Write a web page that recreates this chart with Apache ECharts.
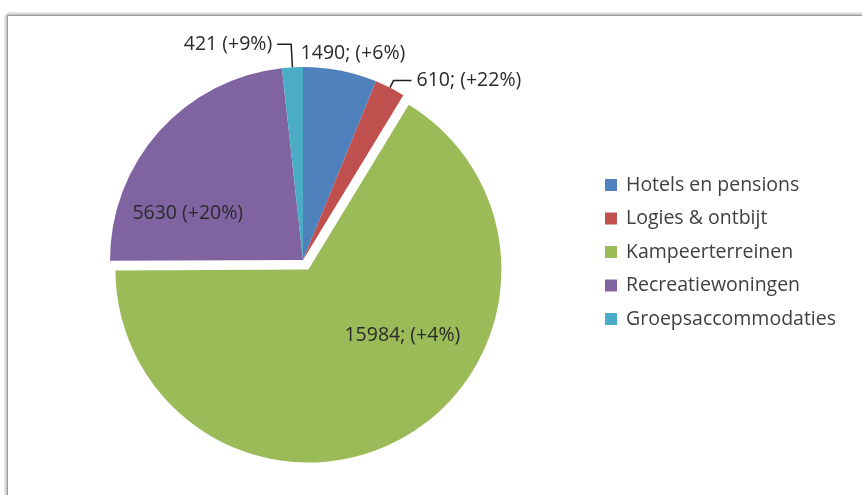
<!DOCTYPE html>
<html>
<head>
<meta charset="utf-8">
<script src="https://cdn.jsdelivr.net/npm/echarts@6/dist/echarts.min.js"></script>
<style>
  html, body { margin: 0; padding: 0; background: #ffffff; }
  .frame {
    position: absolute; left: 7px; top: 15px; width: 900px; height: 520px;
    border: 1px solid #9a9a9a;
    box-shadow: 0 -2px 2px #c8c8c8, -2px 0 2px #c8c8c8;
    background: #ffffff;
  }
  #chart { position: absolute; left: 0; top: 0; width: 862px; height: 495px; }
</style>
</head>
<body>
<div class="frame"></div>
<div id="chart"></div>
<script>
// categorieën en waarden
const categories = ['Hotels en pensions', 'Logies & ontbijt', 'Kampeerterreinen', 'Recreatiewoningen', 'Groepsaccommodaties'];
const values = [1490, 610, 15984, 5630, 421];
const labelTexts = ['1490; (+6%)', '610; (+22%)', '15984; (+4%)', '5630 (+20%)', '421 (+9%)'];
const colors = ['#4f81bd', '#c0504d', '#9bbb59', '#8064a2', '#4bacc6'];

const FONT = 'Open Sans';
const FONT_SIZE = 19.5;

const chart = echarts.init(document.getElementById('chart'));

// per-slice label settings (Excel-achtige plaatsing)
const labelCfg = [
  { label: { position: 'outside', offset: [-47, -15] }, labelLine: { show: true, length: 2, length2: 2, lineStyle: { width: 0, opacity: 0 } } },
  { label: { position: 'outside' }, labelLine: { show: true, length: 8, length2: 18 } },
  { label: { position: 'inside', offset: [45, -21] }, labelLine: { show: false } },
  { label: { position: 'inside', offset: [-41, 20] }, labelLine: { show: false } },
  { label: { position: 'outside' }, labelLine: { show: true, length: 23, length2: 14 } }
];

const data = categories.map((name, i) => {
  const lbl = Object.assign({ formatter: labelTexts[i] }, labelCfg[i].label);
  return {
    name: name,
    value: values[i],
    selected: i === 2,
    itemStyle: { color: colors[i] },
    label: lbl,
    labelLine: labelCfg[i].labelLine,
    select: { label: { formatter: labelTexts[i], offset: labelCfg[i].label.offset }, itemStyle: { color: colors[i] } }
  };
});

const option = {
  animation: false,
  legend: {
    orient: 'vertical',
    left: 600,
    top: 170,
    icon: 'rect',
    itemWidth: 12,
    itemHeight: 12,
    itemGap: 13.5,
    selectedMode: false,
    textStyle: { fontFamily: FONT, fontSize: FONT_SIZE, color: '#404040', padding: [0, 0, 0, 4] },
    data: categories
  },
  series: [{
    type: 'pie',
    center: [303, 260],
    radius: 193,
    startAngle: 90,
    clockwise: true,
    selectedMode: 'single',
    selectedOffset: 11,
    avoidLabelOverlap: false,
    label: {
      fontFamily: FONT,
      fontSize: FONT_SIZE,
      color: '#2a2a2a'
    },
    labelLine: {
      lineStyle: { color: '#202020', width: 1.5 }
    },
    emphasis: { disabled: true },
    itemStyle: { borderWidth: 0 },
    data: data
  }]
};

chart.setOption(option);
</script>
</body>
</html>
